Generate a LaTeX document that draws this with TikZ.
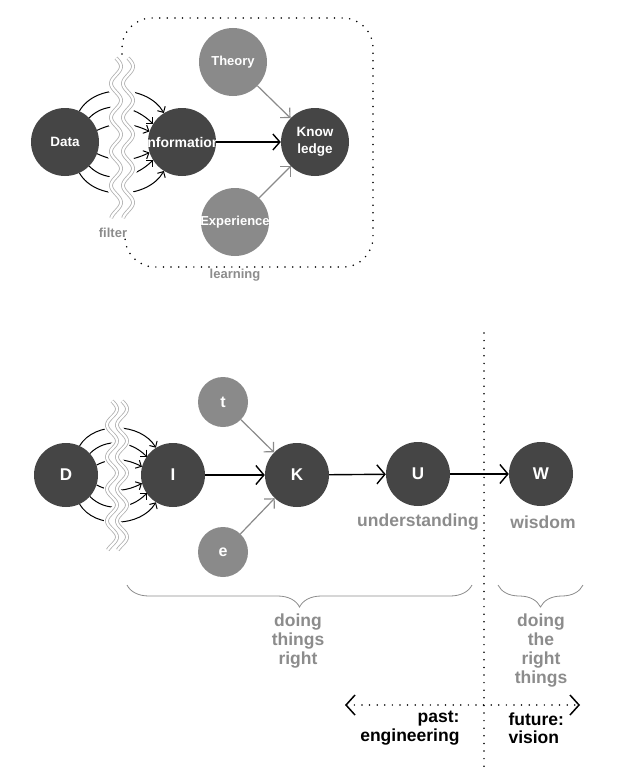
\documentclass[tikz,border=0pt]{standalone}
\usepackage{fontspec}
\setmainfont{Liberation Sans}
\usetikzlibrary{arrows.meta,decorations.pathreplacing}
\definecolor{dk}{HTML}{454545}
\definecolor{lt}{HTML}{8A8A8A}
\definecolor{gtxt}{HTML}{8C8C8C}
\definecolor{filtc}{HTML}{B0B0B0}
\begin{document}
\begin{tikzpicture}[x=1pt,y=-1pt,
  ctext/.style={text=white,font=\fontsize{13.5}{17}\selectfont\bfseries,align=center,inner sep=0pt},
  bigc/.style={circle,fill=dk,minimum size=68pt,inner sep=0pt},
  bigl/.style={bigc,fill=lt},
  smc/.style={circle,fill=dk,text=white,font=\fontsize{17}{19}\selectfont\bfseries,minimum size=64pt,inner sep=0pt},
  sml/.style={smc,fill=lt,minimum size=50pt,font=\fontsize{16}{18}\selectfont\bfseries},
  mainarr/.style={-{Straight Barb[length=7pt,width=16pt]},line width=1.4pt,black},
  mainarrb/.style={-{Straight Barb[length=8pt,width=19pt]},line width=1.4pt,black},
  grayarr/.style={-{Straight Barb[length=7pt,width=14pt]},line width=1.2pt,lt},
  arcarr/.style={-{Straight Barb[length=4.5pt,width=9pt]},line width=1pt,black},
  dotline/.style={line width=1.7pt,dash pattern=on 0pt off 7.6pt,line cap=round},
  glabel/.style={text=gtxt,font=\fontsize{17.5}{19}\selectfont\bfseries,align=center},
  slabel/.style={text=gtxt,font=\fontsize{13}{15}\selectfont\bfseries},
  blabel/.style={font=\fontsize{17.5}{18.5}\selectfont\bfseries},
  band/.style={white,line width=20pt},
  filt/.style={draw=filtc,double=white,double distance=2.2pt,line width=0.8pt},
  bracedeco/.style={decorate,decoration={brace,mirror,amplitude=22pt},draw=gtxt,line width=0.8pt}
]
\useasboundingbox (0,0) rectangle (621,776);

% ---------- top diagram ----------
\draw[dotline,rounded corners=30pt] (122,54) -- (122,18) -- (373,18) -- (373,267) -- (125,267) -- (125,240);

\node[bigc,label={[ctext]center:Data}] (Data) at (65,142) {};
\node[bigc,label={[ctext,font=\fontsize{14}{17}\selectfont\bfseries]center:Information}] (Info) at (182,142) {};
\node[bigc,label={[ctext]center:Know\\ledge}] (Know) at (315,142) {};
\node[bigl,label={[ctext,font=\fontsize{13}{17}\selectfont\bfseries]center:Theory}] (Theory) at (233,62) {};
\node[bigl,label={[ctext,font=\fontsize{13}{17}\selectfont\bfseries]center:Experience}] (Exp) at (235,222) {};

\draw[arcarr] (Data.65) .. controls +(16,-28) and +(-16,-28) .. (Info.122);
\draw[arcarr] (Data.45) .. controls +(18,-18) and +(-18,-18) .. (Info.148);
\draw[arcarr] (Data.20) .. controls +(19,-9) and +(-19,-9) .. (Info.162);
\draw[arcarr] (Data.-65) .. controls +(16,28) and +(-16,28) .. (Info.-122);
\draw[arcarr] (Data.-45) .. controls +(18,18) and +(-18,18) .. (Info.-148);
\draw[arcarr] (Data.-20) .. controls +(19,9) and +(-19,9) .. (Info.-162);

\draw[band] plot[domain=58:218,samples=90,smooth] ({122+5*sin((\x-58)/34*360)},\x);
\draw[filt] plot[domain=58:218,samples=90,smooth] ({116+5*sin((\x-58)/34*360)},\x);
\draw[filt] plot[domain=58:218,samples=90,smooth] ({128+5*sin((\x-58)/34*360)},\x);

\draw[mainarr] (Info) -- (Know);
\draw[grayarr] (Theory) -- (Know);
\draw[grayarr] (Exp) -- (Know);

\node[slabel] (filterlbl) at (113,233) {filter};
\node[slabel] (learnlbl) at (235,275) {learning};

% ---------- bottom diagram ----------
\coordinate (vtop) at (484,333); \coordinate (vbot) at (484,767);
\draw[dotline] (vtop) -- (vbot);

\node[smc] (D) at (66,475) {D};
\node[smc] (I) at (173,475) {I};
\node[smc] (K) at (297,475) {K};
\node[smc] (U) at (418,474) {U};
\node[smc] (W) at (541,474) {W};
\node[sml] (t) at (223,402) {t};
\node[sml] (e) at (223,552) {e};

\draw[arcarr] (D.65) .. controls +(15,-25) and +(-15,-25) .. (I.122);
\draw[arcarr] (D.42) .. controls +(16,-16) and +(-16,-16) .. (I.145);
\draw[arcarr] (D.18) .. controls +(15,-8) and +(-15,-8) .. (I.165);
\draw[arcarr] (D.-65) .. controls +(15,25) and +(-15,25) .. (I.-122);
\draw[arcarr] (D.-42) .. controls +(16,16) and +(-16,16) .. (I.-145);
\draw[arcarr] (D.-18) .. controls +(15,8) and +(-15,8) .. (I.-165);

\draw[band,line width=16pt] plot[domain=401:550,samples=90,smooth] ({117+5*sin((\x-401)/32*360)},\x);
\draw[filt] plot[domain=401:550,samples=90,smooth] ({112+5*sin((\x-401)/32*360)},\x);
\draw[filt] plot[domain=401:550,samples=90,smooth] ({122+5*sin((\x-401)/32*360)},\x);

\draw[mainarrb] (I) -- (K);
\draw[mainarrb] (K) -- (U);
\draw[mainarrb] (U) -- (W);
\draw[grayarr] (t) -- (K);
\draw[grayarr] (e) -- (K);

\node[glabel] (ulbl) at (418,522) {understanding};
\node[glabel] (wlbl) at (543,522) {wisdom};

\coordinate (b1a) at (127,585); \coordinate (b1b) at (472,585);
\coordinate (b2a) at (498,585); \coordinate (b2b) at (583,585);
\draw[bracedeco] (b1a) -- (b1b);
\draw[bracedeco] (b2a) -- (b2b);

\node[glabel] (dtr) at (298,641) {doing\\things\\right};
\node[glabel] (dtrt) at (541,650.5) {doing\\the\\right\\things};

\coordinate (pl) at (345,705); \coordinate (pr) at (580,705);
\draw[dotline,{Straight Barb[length=9pt,width=20pt,line width=1.5pt]}-{Straight Barb[length=9pt,width=20pt,line width=1.5pt]}] (pl) -- (pr);

\node[blabel,align=right,anchor=east] (past) at (463,728) {past:\\engineering};
\node[blabel,align=left,anchor=west] (fut) at (505,728) {future:\\vision};
\end{tikzpicture}
\end{document}
